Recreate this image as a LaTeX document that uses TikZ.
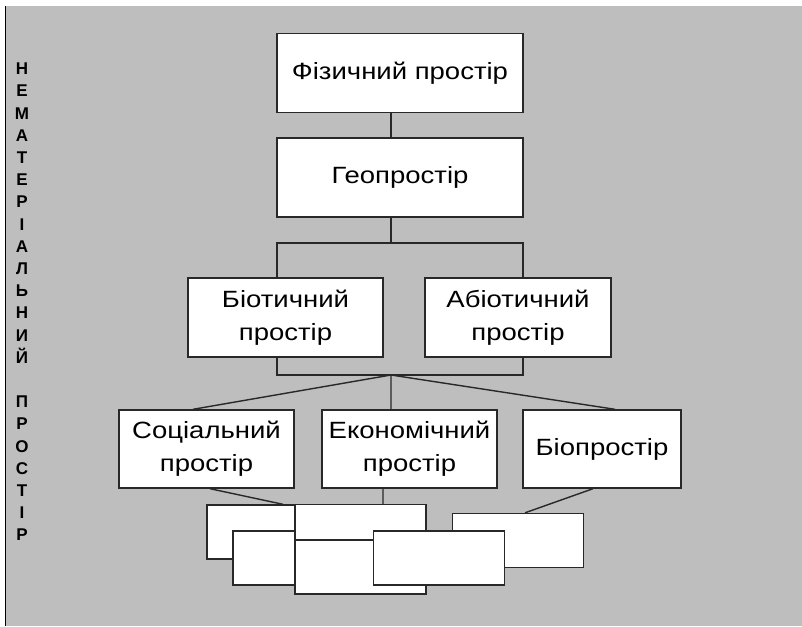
\documentclass[tikz,border=0pt]{standalone}
\usepackage{fontspec}
\setmainfont{Liberation Sans}
\newfontfamily\boxfont[FakeStretch=1.17]{Liberation Sans}
\usepackage{tikz}
\usetikzlibrary{calc}
\definecolor{bggray}{RGB}{190,190,190}
\definecolor{edgegray}{RGB}{40,40,40}

\begin{document}
\begin{tikzpicture}[x=1pt,y=-1pt,
	place/.style={rectangle,draw=edgegray,fill=white,line width=1.4pt,inner sep=0pt,
		align=center,font=\boxfont\fontsize{23.5}{33}\selectfont,minimum height=79pt},
	blank/.style={rectangle,draw=edgegray,fill=white,line width=1.4pt,inner sep=0pt,
		minimum width=131pt,minimum height=54pt},
	link/.style={draw=edgegray,line width=1.4pt}]
	% background and frame
	\useasboundingbox (0,0) rectangle (802,626);
	\fill[white] (0,0) rectangle (802,626);
	\fill[bggray] (5,6) rectangle (802,626);
	\draw[black,line width=1.6pt] (5.5,6) -- (5.5,626);
	\node (N) at (22,302) [inner sep=0pt,align=center,font=\bfseries\fontsize{17}{22.2}\selectfont]
		{Н\\Е\\М\\А\\Т\\Е\\Р\\І\\А\\Л\\Ь\\Н\\И\\Й\\\mbox{}\\П\\Р\\О\\С\\Т\\І\\Р};
	% main boxes
	\node (F) at (400,  73) [place,minimum width=246pt] {Фізичний простір};
	\node (G) at (400,177.5) [place,minimum width=246pt] {Геопростір};
	\node (B) at (285.5,317.5) [place,minimum width=195pt] {Біотичний\\простір};
	\node (A) at (518,317.5) [place,minimum width=186pt] {Абіотичний\\простір};
	\node (S) at (206.5,449) [place,minimum width=175pt,minimum height=78pt] {Соціальний\\простір};
	\node (E) at (409.5,449) [place,minimum width=175pt,minimum height=78pt] {Економічний\\простір};
	\node (P) at (602,449) [place,minimum width=158pt,minimum height=78pt] {Біопростір};
	% empty boxes at the bottom
	\node (R1) at (272.5,532) [blank] {};
	\node (R3) at (518,540.5) [blank] {};
	\node (R4) at (298.5,558) [blank] {};
	\node (R2) at (360.5,531.5) [blank] {};
	\node (R5) at (360.5,567) [blank] {};
	\node (R6) at (439,558) [blank] {};
	% junctions
	\coordinate (T)  at (391,243);
	\coordinate (TL) at (277,243);
	\coordinate (TR) at (523,243);
	\coordinate (J)  at (391,375);
	\coordinate (JL) at (277,375);
	\coordinate (JR) at (523,375);
	\draw [link] (T |- F.south) -- (T |- G.north)
		(T |- G.south) -- (T)
		(TL |- B.north) -- (TL) -- (TR) -- (TR |- A.north);
	\draw [link] (JL |- B.south) -- (JL) -- (JR) -- (JR |- A.south);
	\draw [link] (J) -- ([xshift=-13.5pt]S.north)
		(J) -- (J |- E.north)
		(J) -- ([xshift=13pt]P.north);
	\draw [link] ([xshift=3.5pt]S.south) -- ([xshift=10.5pt]R1.north)
		([xshift=-26.5pt]E.south) -- ([xshift=22.5pt]R2.north)
		([xshift=-9pt]P.south) -- ([xshift=7pt]R3.north);
\end{tikzpicture}
\end{document}
